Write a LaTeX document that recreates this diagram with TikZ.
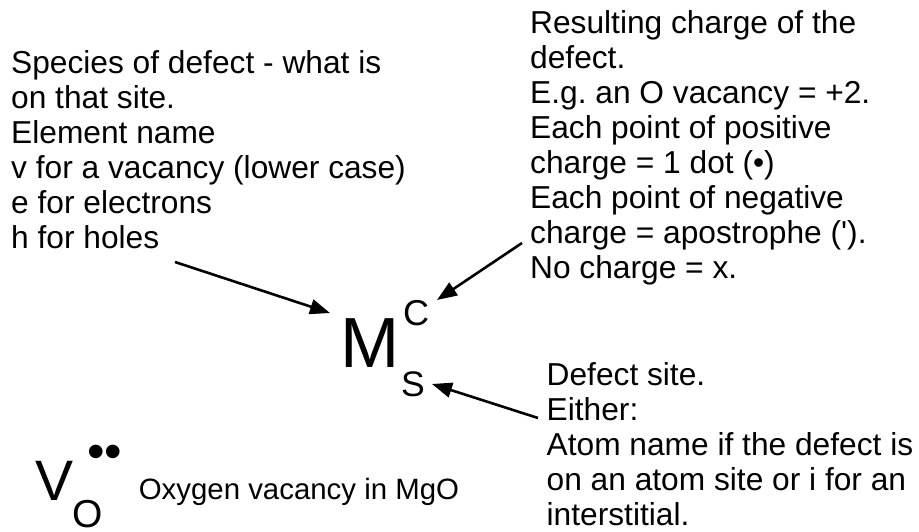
\documentclass[tikz,border=0pt]{standalone}
\usepackage{fontspec}
\newfontfamily\lib{Liberation Sans}
\usetikzlibrary{arrows.meta}
\frenchspacing
\begin{document}
\begin{tikzpicture}[x=1pt,y=-1pt,font=\lib,
  txt/.style={inner sep=0pt, anchor=north west, align=left, font=\lib\fontsize{31.7}{35}\selectfont\frenchspacing},
  sym/.style={inner sep=0pt, anchor=base west},
  ptr/.style={line width=2.6pt, -{Triangle[length=20pt,width=15pt]}}]
\useasboundingbox (0,0) rectangle (919,532);
% explanatory blocks
\node[txt] (species) at (11,48.5) {\strut Species of defect - what is\\on that site.\\Element name\\v for a vacancy (lower case)\\e for electrons\\h for holes};
\node[txt] (charge) at (530,8.5) {\strut Resulting charge of the\\defect.\\E.g. an O vacancy = +2.\\Each point of positive\\charge = 1 dot (•)\\Each point of negative\\charge = apostrophe (').\\No charge = x.};
\node[txt] (site) at (546.5,360.5) {\strut Defect site.\\Either:\\Atom name if the defect is\\on an atom site or i for an\\interstitial.};
% Kroger-Vink symbol
\node[sym, font=\lib\fontsize{71}{80}\selectfont] (M) at (340,367) {M};
\node[sym, font=\lib\fontsize{36}{40}\selectfont] (C) at (403,325) {C};
\node[sym, font=\lib\fontsize{35.5}{40}\selectfont] (S) at (401,396) {S};
% example
\node[sym, font=\lib\fontsize{57}{60}\selectfont] (V) at (35.5,500) {V};
\node[sym, font=\lib\fontsize{39}{44}\selectfont] (O) at (72.5,527) {O};
\node[sym, font=\lib\fontsize{50}{54}\selectfont] (dots) at (87,468) {••};
\node[sym, font=\lib\fontsize{29.4}{33}\selectfont] (oxy) at (138.6,499.5) {Oxygen vacancy in MgO};
% connectors
\coordinate (a1s) at (175,262);
\coordinate (a1e) at (330,313);
\coordinate (a2s) at (522,243);
\coordinate (a2e) at (437,300);
\coordinate (a3s) at (538,418);
\coordinate (a3e) at (432,384);
\draw[ptr] (a1s) -- (a1e);
\draw[ptr] (a2s) -- (a2e);
\draw[ptr] (a3s) -- (a3e);
\end{tikzpicture}
\end{document}
